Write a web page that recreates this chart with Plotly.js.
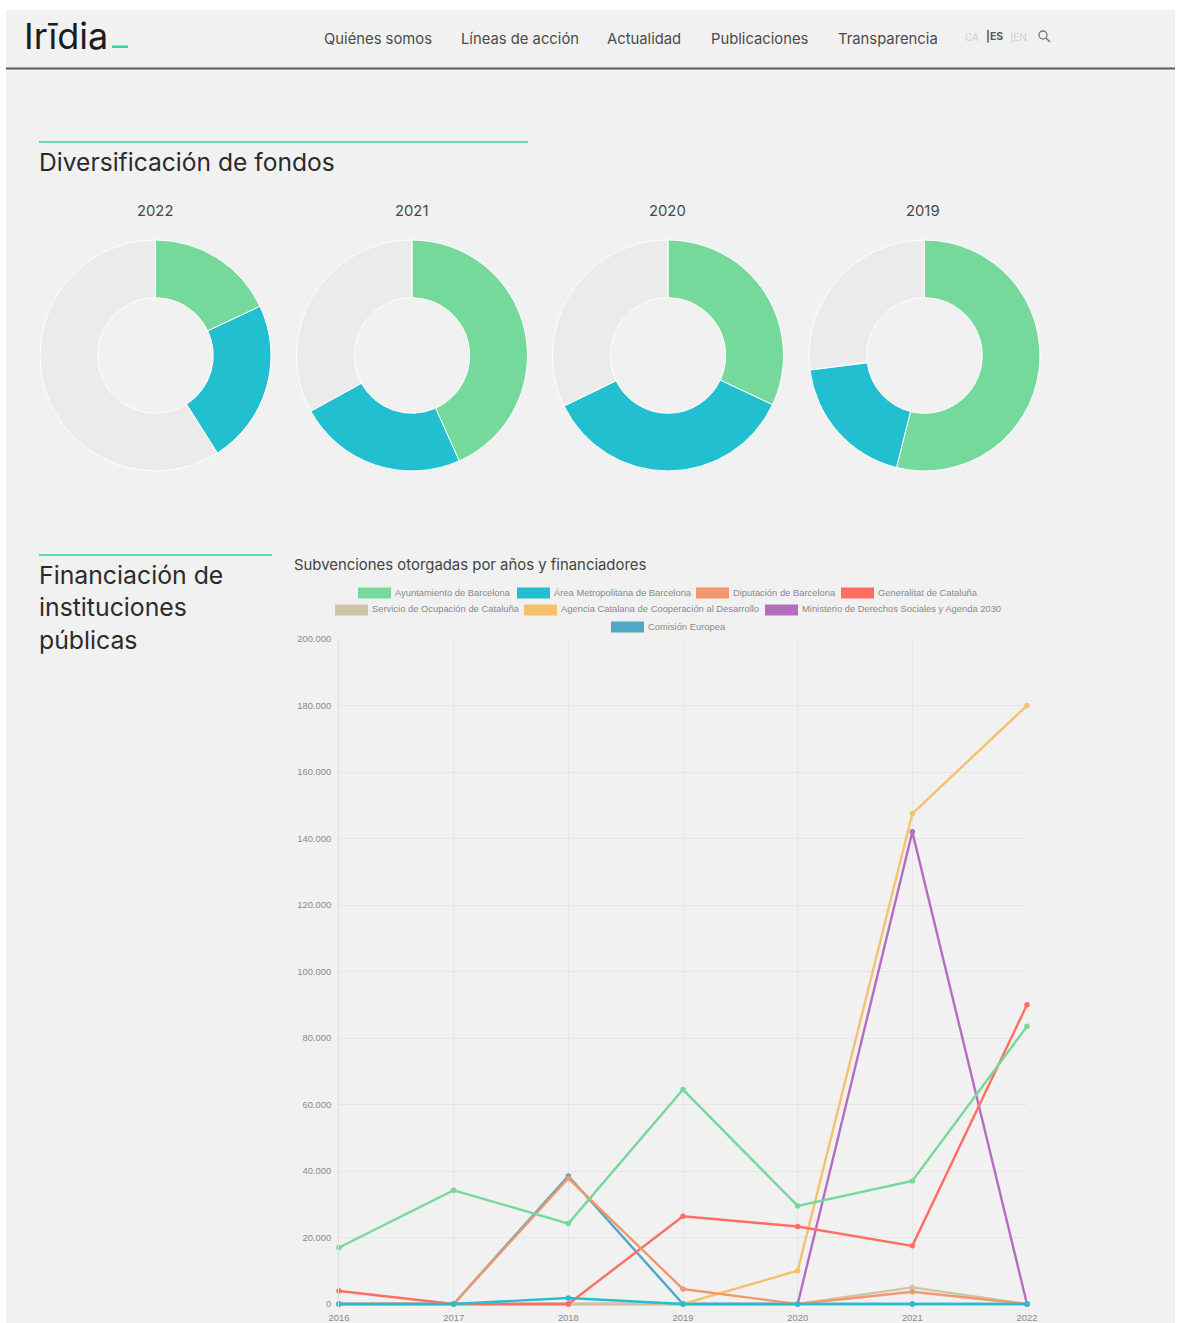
<!DOCTYPE html>
<html>
<head>
<meta charset="utf-8">
<script src="https://cdn.plot.ly/plotly-3.0.1.min.js"></script>
<style>html,body{margin:0;padding:0;background:#fff}#chart{width:1179px;height:1323px}</style>
</head>
<body>
<div id="chart"></div>
<script>
// ---- data ----
var donutYears = ['2022', '2021', '2020', '2019'];
var donutLabels = ['Financiación A', 'Financiación B', 'Resto'];
var donut2022 = [18, 23, 59];
var donut2021 = [43.3, 23.7, 33];
var donut2020 = [32, 35.8, 32.2];
var donut2019 = [53.9, 19.1, 27];
var donutColors = ['#74d99a', '#22bfd0', '#ebebeb'];

var years = ['2016', '2017', '2018', '2019', '2020', '2021', '2022'];
var seriesNames = ['Ayuntamiento de Barcelona', 'Área Metropolitana de Barcelona', 'Diputación de Barcelona', 'Generalitat de Cataluña', 'Servicio de Ocupación de Cataluña', 'Agencia Catalana de Cooperación al Desarrollo', 'Ministerio de Derechos Sociales y Agenda 2030', 'Comisión Europea'];
var seriesColors = ['#74d99a', '#22bfd0', '#f4976c', '#ff6f61', '#cfc4a8', '#f5c26b', '#b36fbe', '#50a7c6'];
var ayuntamiento = [17000, 34200, 24200, 64500, 29500, 37000, 83500];
var areaMetropolitana = [0, 0, 1800, 0, 0, 0, 0];
var diputacion = [0, 0, 37800, 4500, 0, 3700, 0];
var generalitat = [3900, 0, 0, 26400, 23300, 17500, 90000];
var servicioOcupacion = [0, 0, 0, 0, 0, 5000, 0];
var agenciaCatalana = [0, 0, 0, 0, 10000, 147500, 180000];
var ministerio = [0, 0, 0, 0, 0, 142000, 0];
var comision = [0, 0, 38500, 0, 0, 0, 0];
var yTickValues = [0, 20000, 40000, 60000, 80000, 100000, 120000, 140000, 160000, 180000, 200000];
var yTickLabels = ['0', '20.000', '40.000', '60.000', '80.000', '100.000', '120.000', '140.000', '160.000', '180.000', '200.000'];
var navItems = ['Quiénes somos', 'Líneas de acción', 'Actualidad', 'Publicaciones', 'Transparencia'];

// ---- page geometry ----
var W = 1179, H = 1323;
function px(x) { return x / W; }
function py(y) { return 1 - y / H; }
var FONT = 'Inter, "Liberation Sans", sans-serif';
var LEGFONT = '"Liberation Sans", sans-serif';

var navX = [324, 461, 607, 711, 838];
var donutCenters = [155, 411.5, 667.5, 924];
var donutTitleX = [155, 411, 667, 923];
var donutR = 115.5, donutTop = 240;
var donutValues = [donut2022, donut2021, donut2020, donut2019];
var legendRows = [
  { y: 593, items: [358, 517, 696, 841], idx: [0, 1, 2, 3] },
  { y: 610, items: [335, 524, 765], idx: [4, 5, 6] },
  { y: 627, items: [611], idx: [7] }
];

var shapes = [], annotations = [];
function rect(x0, y0, x1, y1, color) {
  shapes.push({ type: 'rect', xref: 'paper', yref: 'paper', x0: px(x0), x1: px(x1), y0: py(y0), y1: py(y1), fillcolor: color, line: { width: 0 }, layer: 'below' });
}
function text(x, y, str, size, color, anchor, font, weight) {
  annotations.push({ xref: 'paper', yref: 'paper', x: px(x), y: py(y), text: str, showarrow: false, xanchor: anchor || 'left', yanchor: 'middle', borderpad: 0, borderwidth: 0, font: { family: font || FONT, size: size, color: color, weight: weight || 400 } });
}

// page background + header
rect(6, 10, 1175, 1323, '#f1f1f1');
rect(6, 67.5, 1175, 69.5, '#5c5c5c');
text(24, 36, 'Irīdia', 36, '#1c1c1c');
rect(112, 45.5, 128, 48, '#2fd69b');
navItems.forEach(function (n, i) { text(navX[i], 39.5, n, 14.8, '#4a4a4a'); });
text(965, 36.5, 'CA', 10, '#d0d0d0');
text(986, 36.5, '|ES', 10.5, '#555555', 'left', FONT, 700);
text(1010, 36.5, '|EN', 10, '#d0d0d0');
shapes.push({ type: 'circle', xref: 'paper', yref: 'paper', x0: px(1039), x1: px(1047), y0: py(31), y1: py(39), line: { color: '#777', width: 1.3 } });
shapes.push({ type: 'line', xref: 'paper', yref: 'paper', x0: px(1046), x1: px(1050), y0: py(38), y1: py(42), line: { color: '#777', width: 1.5 } });

// section headings
rect(39, 141, 528, 143, '#5fdcae');
text(39, 162, 'Diversificación de fondos', 24.6, '#2b2b2b');
rect(39, 554, 272, 556, '#5fdcae');
text(39, 575, 'Financiación de', 24.8, '#2b2b2b');
text(39, 607, 'instituciones', 24.8, '#2b2b2b');
text(39, 640, 'públicas', 24.8, '#2b2b2b');
donutYears.forEach(function (y, i) { text(donutTitleX[i], 211, y, 14.8, '#4a4a4a', 'center'); });
text(294, 565, 'Subvenciones otorgadas por años y financiadores', 14.9, '#444444');

// legend of the line chart
legendRows.forEach(function (r) {
  r.idx.forEach(function (s, k) {
    var x = r.items[k];
    rect(x, r.y - 5.5, x + 33, r.y + 5.5, seriesColors[s]);
    text(x + 37, r.y - 1, seriesNames[s], 9.4, '#8a8a8a', 'left', LEGFONT);
  });
});

// ---- traces ----
var traces = donutValues.map(function (vals, i) {
  return {
    type: 'pie', hole: 0.5, sort: false, direction: 'clockwise', rotation: 0,
    values: vals, labels: donutLabels, textinfo: 'none', hoverinfo: 'label+percent', showlegend: false,
    marker: { colors: donutColors, line: { color: '#ffffff', width: 1 } },
    domain: { x: [px(donutCenters[i] - donutR + 0.5), px(donutCenters[i] + donutR + 0.5)], y: [py(donutTop + 2 * donutR), py(donutTop)] }
  };
});

var allSeries = [ayuntamiento, areaMetropolitana, diputacion, generalitat, servicioOcupacion, agenciaCatalana, ministerio, comision];
// the first series is painted last, so it sits on top of the others
for (var s = allSeries.length - 1; s >= 0; s--) {
  traces.push({
    type: 'scatter', mode: 'lines+markers', x: years, y: allSeries[s], name: seriesNames[s], showlegend: false,
    line: { color: seriesColors[s], width: 2.4 }, marker: { color: seriesColors[s], size: 5.5 }, cliponaxis: false,
    xaxis: 'x', yaxis: 'y'
  });
}

// the axis runs a little below zero so the lines lying on zero are drawn whole
var yAxisFloor = -1500;
var plotZeroPx = 1304, plotTopPx = 639;
var pxPerUnit = (plotZeroPx - plotTopPx) / 200000;
var plotBottomPx = plotZeroPx - yAxisFloor * pxPerUnit;

var tickFont = { family: LEGFONT, size: 9.4, color: '#8a8a8a' };
var layout = {
  width: W, height: H, margin: { l: 0, r: 0, t: 0, b: 0 }, paper_bgcolor: '#ffffff', plot_bgcolor: 'rgba(0,0,0,0)',
  showlegend: false, shapes: shapes, annotations: annotations,
  xaxis: {
    type: 'category', categoryorder: 'array', categoryarray: years, range: [0, 6],
    domain: [px(339), px(1027)], anchor: 'y', showgrid: true, gridcolor: '#e6e6e6', gridwidth: 1, zeroline: false, showline: false,
    ticks: '', tickfont: tickFont, ticklabelstandoff: 2, fixedrange: true, automargin: false
  },
  yaxis: {
    range: [yAxisFloor, 200000], domain: [py(plotBottomPx), py(plotTopPx)], anchor: 'x', tickmode: 'array', tickvals: yTickValues, ticktext: yTickLabels,
    showgrid: true, gridcolor: '#e6e6e6', gridwidth: 1, zeroline: false, showline: true, linecolor: '#dedede', linewidth: 1,
    ticks: '', tickfont: tickFont, ticklabelstandoff: 5, fixedrange: true, automargin: false
  }
};
Plotly.newPlot('chart', traces, layout, { displayModeBar: false });
</script>
</body>
</html>
